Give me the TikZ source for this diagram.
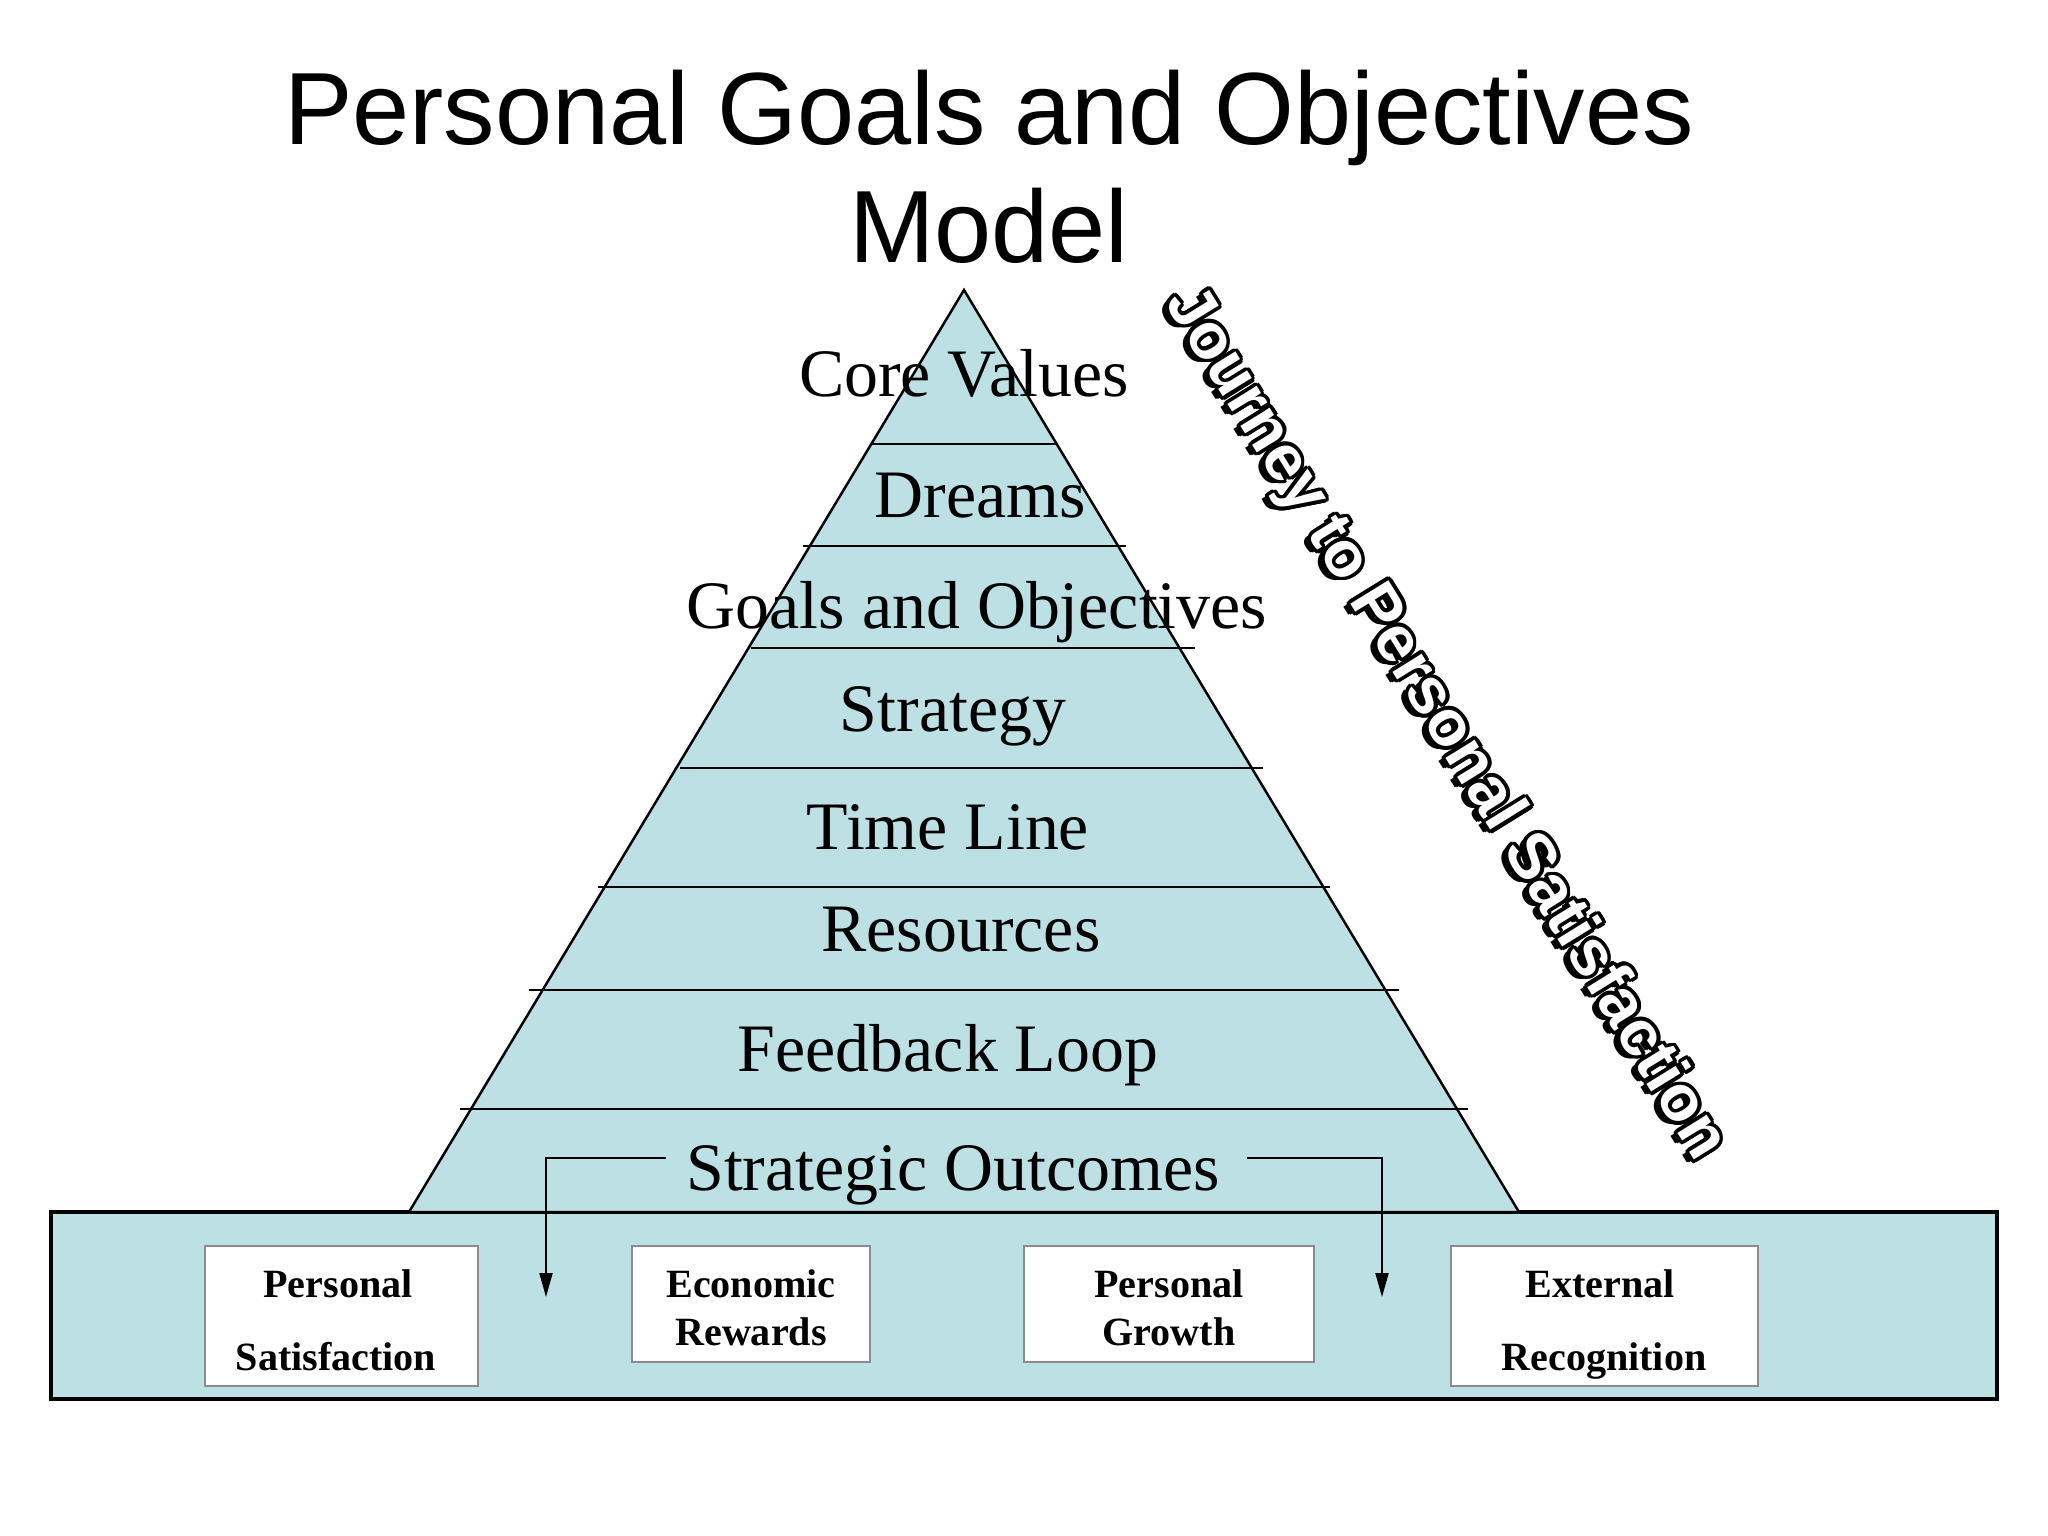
\documentclass[tikz,border=0pt]{standalone}
\usepackage{fontspec}
\setmainfont{Liberation Serif}
\newfontfamily\titlefont{Liberation Sans}
\newfontfamily\jfont{Liberation Sans}
\usetikzlibrary{arrows.meta,calc}
\definecolor{pyr}{RGB}{188,224,227}
\definecolor{boxgray}{RGB}{140,140,140}
\newcommand\jtxt{Journey to Personal Satisfaction}
\newcommand\outlinedjt{%
  \rlap{\raisebox{-1.6pt}{\jtxt}}%
  \rlap{\hspace*{-0.3pt}\raisebox{-2.1pt}{\jtxt}}%
  \foreach \a in {0,22.5,...,337.5}{%
    \pgfmathsetmacro\dx{1.05*cos(\a)}%
    \pgfmathsetmacro\dy{1.05*sin(\a)}%
    \rlap{\hspace*{\dx pt}\raisebox{\dy pt}{\jtxt}}}%
  \textcolor{white}{\jtxt}}
\tikzset{
  lbl/.style={anchor=base, font=\fontsize{19.3}{22}\selectfont, inner sep=0pt},
  outbox/.style={draw=boxgray, fill=white, line width=0.8pt},
  boxtxt/.style={anchor=base, font=\fontsize{11.4}{13}\selectfont\bfseries, inner sep=0pt},
  arr/.style={line width=0.6pt, -{Triangle[length=0.24cm,width=0.13cm]}},
  layer/.style={line width=0.6pt},
}
\begin{document}
\begin{tikzpicture}[x=0.01cm,y=-0.01cm]
\useasboundingbox (0,0) rectangle (2048,1536);
\fill[white] (0,0) rectangle (2048,1536);
% title
\node[anchor=base, font=\titlefont\fontsize{29.2}{34}\selectfont, inner sep=0pt] (t1) at (989,144) {Personal Goals and Objectives};
\node[anchor=base, font=\titlefont\fontsize{29.2}{34}\selectfont, inner sep=0pt] (t2) at (989,262) {Model};
% base band
\draw[fill=pyr, line width=0.9pt] (51,1212) rectangle (1997,1399);
% pyramid
\draw[fill=pyr, line width=0.7pt] (964,290) -- (409,1212) -- (1519,1212) -- cycle;
\foreach \y/\a/\b in {444/872/1058, 546/803/1126, 648/751/1195, 768/680/1263, 887/598/1330, 990/529/1399, 1109/460/1468}
  \draw[layer] (\a,\y) -- (\b,\y);
% labels
\node[lbl] (cv) at (964,396) {Core Values};
\node[lbl] (dr) at (980,517) {Dreams};
\node[lbl] (go) at (977,628) {Goals and Objectives};
\node[lbl] (st) at (953,731) {Strategy};
\node[lbl] (tl) at (948,849) {Time Line};
\node[lbl] (re) at (961,951) {Resources};
\node[lbl] (fl) at (948,1071) {Feedback Loop};
\node[lbl] (so) at (953,1190) {Strategic Outcomes};
% boxes
\draw[outbox] (205,1246) rectangle (478,1386);
\draw[outbox] (632,1246) rectangle (870,1362);
\draw[outbox] (1024,1246) rectangle (1314,1362);
\draw[outbox] (1451,1246) rectangle (1758,1386);
\node[boxtxt] (ps1) at (338,1297) {Personal};
\node[boxtxt] (ps2) at (336,1370) {Satisfaction};
\node[boxtxt] (er1) at (751,1297) {Economic};
\node[boxtxt] (er2) at (751,1345) {Rewards};
\node[boxtxt] (pg1) at (1169,1297) {Personal};
\node[boxtxt] (pg2) at (1169,1345) {Growth};
\node[boxtxt] (ex1) at (1600,1297) {External};
\node[boxtxt] (ex2) at (1604,1370) {Recognition};
% arrows
\coordinate (lt) at (666,1158);
\coordinate (la) at (546,1297);
\coordinate (rt) at (1247,1158);
\coordinate (ra) at (1382,1297);
\draw[arr] (lt) -| (la);
\draw[arr] (rt) -| (ra);
% journey text (outlined, with shadow)
\node[rotate=-58.3, inner sep=0pt, font=\jfont\bfseries\fontsize{18.5}{22}\selectfont] (jt) at (1443,725) {\outlinedjt};
\end{tikzpicture}
\end{document}
